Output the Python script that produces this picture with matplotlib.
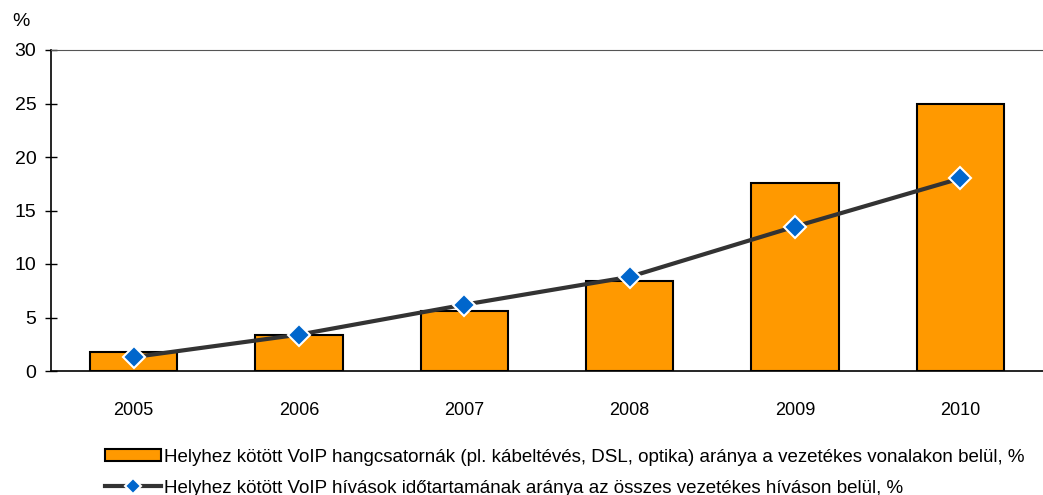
import matplotlib.pyplot as plt
import numpy as np

plt.rcParams['font.family'] = ['Liberation Sans', 'DejaVu Sans']

years = ['2005', '2006', '2007', '2008', '2009', '2010']
voip_channels = [1.8, 3.4, 5.6, 8.4, 17.6, 25.0]
voip_calls = [1.3, 3.4, 6.2, 8.8, 13.5, 18.0]

label_bar = 'Helyhez kötött VoIP hangcsatornák (pl. kábeltévés, DSL, optika) aránya a vezetékes vonalakon belül, %'
label_line = 'Helyhez kötött VoIP hívások időtartamának aránya az összes vezetékes híváson belül, %'

fig = plt.figure(figsize=(10.43, 4.95), dpi=100)
ax = fig.add_axes([51/1043, 1-371/495, 1-51/1043, (371-50)/495])

x = np.arange(len(years))
bars = ax.bar(x, voip_channels, width=0.53, color='#FF9900', edgecolor='black', linewidth=1.5,
              label=label_bar, zorder=2)
line, = ax.plot(x, voip_calls, color='#333333', lw=3, marker='D', markersize=11,
                markerfacecolor='#0066CC', markeredgecolor='white', markeredgewidth=1.5,
                label=label_line, zorder=3)

ax.set_xlim(-0.5, 5.5)
ax.set_ylim(0, 30)
ax.set_yticks([0, 5, 10, 15, 20, 25, 30])
ax.set_xticks(x)
ax.set_xticklabels(years)
ax.tick_params(axis='y', direction='inout', length=9, width=1, labelsize=14, pad=6)
ax.tick_params(axis='x', length=0, labelsize=13, pad=22)
ax.spines['right'].set_visible(False)
ax.spines['top'].set_color('#555555')
ax.spines['left'].set_linewidth(1.2)
ax.spines['bottom'].set_linewidth(1.2)

fig.text(12/1043, 1-22/495, '%', fontsize=14, va='center')

fig.legend([bars, line], [label_bar, label_line], loc='upper left',
           bbox_to_anchor=(97/1043, 1-441/495), frameon=False, fontsize=13.5,
           handlelength=3.0, handleheight=0.6, handletextpad=0.2, labelspacing=0.75,
           borderaxespad=0, markerscale=0.75)

fig.savefig('out.png', dpi=100)
